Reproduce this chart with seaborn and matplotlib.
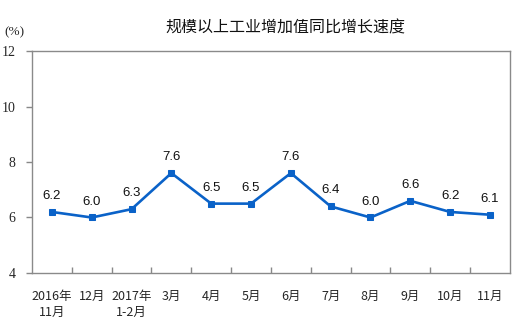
import matplotlib
matplotlib.use("Agg")
import matplotlib.pyplot as plt
import seaborn as sns
import pandas as pd
import numpy as np

months = ["2016年\n11月", "12月", "2017年\n1-2月", "3月", "4月", "5月", "6月",
          "7月", "8月", "9月", "10月", "11月"]
growth = [6.2, 6.0, 6.3, 7.6, 6.5, 6.5, 7.6, 6.4, 6.0, 6.6, 6.2, 6.1]
y_ticks = [4, 6, 8, 10, 12]
title = "规模以上工业增加值同比增长速度"

sns.set_theme(style="white")
plt.rcParams["font.family"] = ["Noto Sans CJK SC", "DejaVu Sans"]

df = pd.DataFrame({"pos": np.arange(len(months)), "value": growth})

fig = plt.figure(figsize=(5.3, 3.28), dpi=100)
ax = fig.add_axes([0.0604, 0.1677, 0.9016, 0.6768])

line_color = "#0a62c8"
sns.lineplot(data=df, x="pos", y="value", ax=ax, color=line_color,
             linewidth=1.9, marker="s", markersize=5,
             markeredgecolor=line_color, markerfacecolor=line_color)

for x, v in zip(df["pos"], df["value"]):
    ax.text(x, v + 0.36, f"{v:.1f}", ha="center", va="bottom",
            fontsize=9.5, family="Liberation Sans", color="#111111")

ax.set_xlim(-0.5, len(months) - 0.5)
ax.set_ylim(4, 12)
ax.set_xlabel("")
ax.set_ylabel("")

# category boundaries as tick marks, labels centred under each category
ax.set_xticks(np.arange(len(months)))
ax.set_xticklabels(months, fontsize=9, linespacing=1.3)
ax.tick_params(axis="x", which="major", length=0, pad=12)
ax.set_xticks(np.arange(len(months) - 1) + 0.5, minor=True)
ax.tick_params(axis="x", which="minor", length=4, direction="in",
               color="#888888", width=1, top=False, bottom=True)

ax.set_yticks(y_ticks)
ax.set_yticklabels([str(t) for t in y_ticks], fontsize=10,
                   family="Liberation Serif")
ax.tick_params(axis="y", which="major", length=4, direction="out",
               color="#888888", width=1, left=True, pad=8)

for s in ax.spines.values():
    s.set_visible(True)
    s.set_color("#8a8a8a")
    s.set_linewidth(1.0)

fig.text(14 / 530, 1 - 32 / 328, "(%)", ha="center", va="center",
         fontsize=9.5, family="Liberation Serif")
fig.text(285 / 530, 1 - 28 / 328, title, ha="center", va="center",
         fontsize=11.5, color="#111111")

fig.savefig("out.png", dpi=100, facecolor="white")
